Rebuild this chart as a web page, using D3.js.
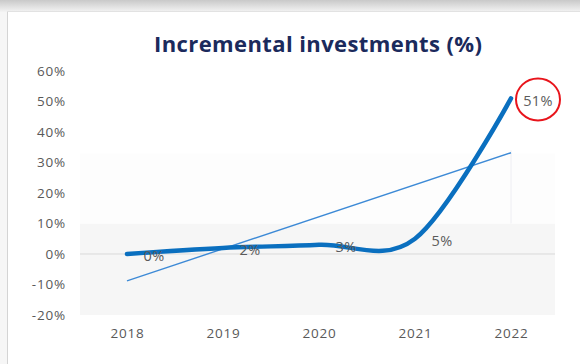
<!DOCTYPE html>
<html>
<head>
<meta charset="utf-8">
<script src="https://cdn.jsdelivr.net/npm/d3@7"></script>
<style>
  html, body { margin: 0; padding: 0; background: #fff; }
  svg { display: block; }
</style>
</head>
<body>
<svg id="chart" width="580" height="364"></svg>
<script>
// Incremental investments by year, in percent
const years = ["2018", "2019", "2020", "2021", "2022"];
const values = [0, 2, 3, 5, 51];
const labels = ["0%", "2%", "3%", "5%", "51%"];
const yTicks = [-20, -10, 0, 10, 20, 30, 40, 50, 60];
const highlighted = ["2022"];

const svg = d3.select("#chart");
const W = 580, H = 364;
const FONT = "'Open Sans', sans-serif";

// Card backdrop: soft shadow band on top, thin border on the left
const defs = svg.append("defs");
const g1 = defs.append("linearGradient").attr("id", "topShade").attr("x1", 0).attr("y1", 0).attr("x2", 0).attr("y2", 1);
g1.append("stop").attr("offset", "0%").attr("stop-color", "#c9c9c9");
g1.append("stop").attr("offset", "100%").attr("stop-color", "#f4f4f4");
svg.append("rect").attr("x", 0).attr("y", 0).attr("width", W).attr("height", 12).attr("fill", "url(#topShade)");
svg.append("rect").attr("x", 0).attr("y", 12).attr("width", 7).attr("height", H - 12).attr("fill", "#f6f6f6");
svg.append("line").attr("x1", 7.5).attr("x2", 7.5).attr("y1", 11).attr("y2", H)
  .attr("stroke", "#d4d4d4").attr("stroke-width", 1);
svg.append("line").attr("x1", 7).attr("x2", W).attr("y1", 11.5).attr("y2", 11.5)
  .attr("stroke", "#e2e2e2").attr("stroke-width", 1);

const x = d3.scalePoint().domain(years).range([79, 559]).padding(0.5);
const y = d3.scaleLinear().domain([-20, 60]).range([315, 71]);

// Plot area tint
svg.append("rect").attr("x", 80).attr("y", y(10)).attr("width", 475).attr("height", y(-20) - y(10))
  .attr("fill", "#f6f6f6");
svg.append("rect").attr("x", 80).attr("y", y(33)).attr("width", 475).attr("height", y(10) - y(33))
  .attr("fill", "#fdfdfd");
svg.append("line").attr("x1", x("2022")).attr("x2", x("2022")).attr("y1", y(34)).attr("y2", y(10))
  .attr("stroke", "#eeeef3").attr("stroke-width", 1);

// Zero line
svg.append("line").attr("x1", 80).attr("x2", 555).attr("y1", y(0)).attr("y2", y(0))
  .attr("stroke", "#d9d9d9").attr("stroke-width", 1);

// Title
svg.append("text").attr("x", 318).attr("y", 52).attr("text-anchor", "middle")
  .attr("font-family", FONT).attr("font-weight", 700).attr("font-size", 22)
  .attr("textLength", 328).attr("lengthAdjust", "spacing")
  .attr("fill", "#1b2a5c").text("Incremental investments (%)");

// Y axis labels
const yAxis = d3.axisLeft(y).tickValues(yTicks).tickFormat(d => d + "%").tickSize(0).tickPadding(0);
const ya = svg.append("g").attr("transform", "translate(66,0)").call(yAxis);
ya.select(".domain").remove();
ya.selectAll("text").attr("font-family", FONT).attr("font-size", 13.5)
  .attr("letter-spacing", 0.8).attr("fill", "#595959");

// X axis labels
const xAxis = d3.axisBottom(x).tickSize(0).tickPadding(0);
const xa = svg.append("g").attr("transform", "translate(0,328)").call(xAxis);
xa.select(".domain").remove();
xa.selectAll("text").attr("font-family", FONT).attr("font-size", 13.5)
  .attr("letter-spacing", 0.8).attr("fill", "#595959");

// Linear trend line (least squares over year index)
const n = values.length;
const idx = d3.range(n);
const mx = d3.mean(idx), my = d3.mean(values);
const slope = d3.sum(idx, i => (i - mx) * (values[i] - my)) / d3.sum(idx, i => (i - mx) ** 2);
const icpt = my - slope * mx;
svg.append("line")
  .attr("x1", x(years[0])).attr("y1", y(icpt))
  .attr("x2", x(years[n - 1])).attr("y2", y(icpt + slope * (n - 1)))
  .attr("stroke", "#3d8ad6").attr("stroke-width", 1.4);

// Smoothed series line
const line = d3.line().x((d, i) => x(years[i])).y(d => y(d)).curve(d3.curveCardinal.tension(0));
svg.append("path").datum(values).attr("d", line)
  .attr("fill", "none").attr("stroke", "#0a6fbf").attr("stroke-width", 4.5).attr("stroke-linecap", "round");

// Data labels to the right of each point
svg.append("g").selectAll("text").data(values).join("text")
  .attr("x", (d, i) => x(years[i]) + 27)
  .attr("y", d => y(d) + 2)
  .attr("dy", "0.35em")
  .attr("text-anchor", "middle")
  .attr("font-family", FONT).attr("font-size", 14.5).attr("letter-spacing", 0.3)
  .attr("fill", "#5a5a5a")
  .text((d, i) => labels[i]);

// Highlight ring around the latest value
svg.append("g").selectAll("ellipse").data(highlighted).join("ellipse")
  .attr("cx", d => x(d) + 27)
  .attr("cy", d => y(values[years.indexOf(d)]) + 1)
  .attr("rx", 22).attr("ry", 21)
  .attr("fill", "none").attr("stroke", "#e8141b").attr("stroke-width", 2);
</script>
</body>
</html>
